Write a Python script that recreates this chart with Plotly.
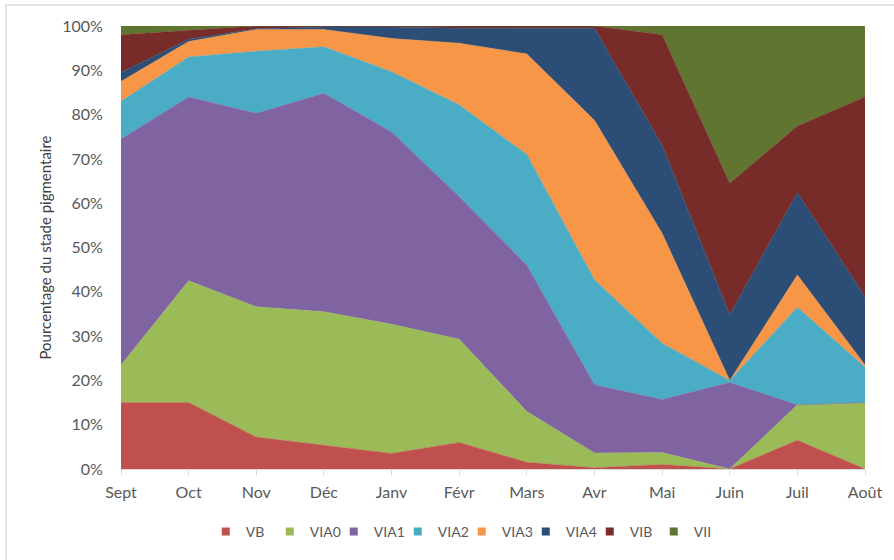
import plotly.graph_objects as go

months = ["Sept", "Oct", "Nov", "Déc", "Janv", "Févr", "Mars", "Avr", "Mai", "Juin", "Juil", "Août"]

VB   = [15.0, 15.0, 7.2, 5.3, 3.5, 6.0, 1.5, 0.3, 1.0, 0.0, 6.5, 0.0]
VIA0 = [8.5, 27.5, 29.4, 30.2, 29.2, 23.3, 11.5, 3.3, 2.7, 0.0, 8.0, 15.0]
VIA1 = [51.0, 41.5, 43.7, 49.3, 43.4, 32.2, 33.0, 15.4, 12.0, 19.5, 0.0, 0.0]
VIA2 = [8.5, 9.0, 14.0, 10.5, 13.6, 20.7, 25.0, 23.7, 12.7, 0.5, 22.0, 8.0]
VIA3 = [4.5, 3.5, 4.9, 3.9, 7.5, 13.9, 22.7, 36.0, 24.8, 0.0, 7.3, 0.5]
VIA4 = [2.0, 0.5, 0.2, 0.6, 2.6, 3.4, 5.8, 20.8, 19.9, 14.8, 18.6, 15.4]
VIB  = [8.5, 2.0, 0.6, 0.2, 0.2, 0.5, 0.5, 0.5, 24.9, 29.7, 15.0, 45.1]
VII  = [2.0, 1.0, 0.0, 0.0, 0.0, 0.0, 0.0, 0.0, 2.0, 35.5, 22.6, 16.0]

y_ticks = [0, 10, 20, 30, 40, 50, 60, 70, 80, 90, 100]
y_tick_labels = ["0%", "10%", "20%", "30%", "40%", "50%", "60%", "70%", "80%", "90%", "100%"]

series = [
    ("VB", VB, "#C0504D"),
    ("VIA0", VIA0, "#9BBB59"),
    ("VIA1", VIA1, "#8064A2"),
    ("VIA2", VIA2, "#4BACC6"),
    ("VIA3", VIA3, "#F79646"),
    ("VIA4", VIA4, "#2C4D75"),
    ("VIB", VIB, "#772C2A"),
    ("VII", VII, "#5F7530"),
]

FONT = "Lato"
TXT = "#595959"

fig = go.Figure()
for name, vals, col in series:
    fig.add_trace(go.Scatter(
        x=months, y=vals, name=name, mode="lines",
        stackgroup="one", line=dict(width=0.5, color=col),
        fillcolor=col, showlegend=False,
    ))
# legend entries with square keys
for name, vals, col in series:
    fig.add_trace(go.Scatter(
        x=[months[0]], y=[None], name=name, mode="markers",
        marker=dict(symbol="square", size=8, color=col),
        showlegend=True, hoverinfo="skip",
    ))

L, R, T, B = 121, 28.5, 26, 91
pw = 894 - L - R
ph = 560 - T - B

fig.update_layout(
    width=894, height=560,
    margin=dict(l=L, r=R, t=T, b=B),
    paper_bgcolor="white", plot_bgcolor="white",
    font=dict(family=FONT, size=16, color=TXT),
    showlegend=True,
    legend=dict(orientation="h", x=(462 - L) / pw, xanchor="center",
                y=(T + ph - 532) / ph, yanchor="middle",
                font=dict(size=14, color=TXT),
                itemwidth=30, entrywidth=19, entrywidthmode="pixels",
                tracegroupgap=0, traceorder="normal"),
    xaxis=dict(range=[0, 11], showgrid=False, showline=True, linecolor="#D9D9D9",
               ticks="outside", ticklen=5, tickcolor="#D9D9D9", automargin=False,
               ticklabelstandoff=4,
               tickfont=dict(size=16, color=TXT), zeroline=False),
    yaxis=dict(range=[0, 100], showgrid=False, showline=False, zeroline=False,
               tickmode="array", tickvals=y_ticks, ticktext=y_tick_labels,
               ticks="outside", ticklen=14, automargin=False,
               tickcolor="rgba(0,0,0,0)",
               tickfont=dict(size=16, color=TXT),
               title=dict(text="Pourcentage du stade pigmentaire",
                          font=dict(size=15, color="#404040"), standoff=6)),
)

# light frame of the chart area (top and left visible)
fig.add_shape(type="rect", xref="paper", yref="paper",
              x0=(6 - L) / pw, x1=(920 - L) / pw,
              y0=(T + ph - 600) / ph, y1=(T + ph - 5) / ph,
              line=dict(color="#D9D9D9", width=1.5), fillcolor="rgba(0,0,0,0)",
              layer="below")

fig.write_html("out.html", config={"displayModeBar": False},
               post_script="document.body.style.margin='0';")
